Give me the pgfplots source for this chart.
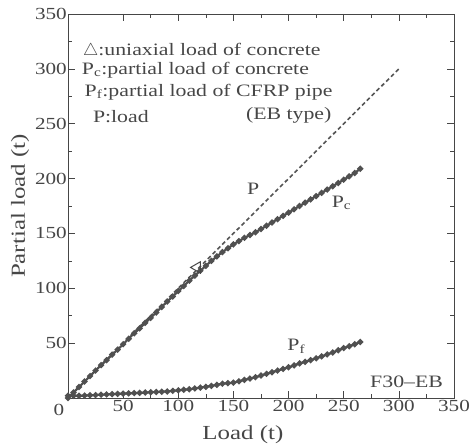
\documentclass[border=0pt]{standalone}
\usepackage{fontspec}
\setmainfont{Liberation Serif}[FakeStretch=1.25]
\usepackage{pgfplots}
\pgfplotsset{compat=1.18}

\definecolor{ink}{RGB}{70,70,70}
\definecolor{dotcol}{RGB}{80,80,80}
\definecolor{dashcol}{RGB}{85,85,85}

\begin{document}
\begin{tikzpicture}
\useasboundingbox (-68bp,-49bp) rectangle (408bp,398bp);
\begin{axis}[
  scale only axis,
  width=386bp, height=384bp,
  xmin=0, xmax=350, ymin=0, ymax=350,
  xtick={50,100,...,350}, ytick={50,100,...,350},
  minor tick num=1,
  tick align=inside,
  major tick length=7bp, minor tick length=4bp,
  axis line style={ink, line width=0.8bp},
  every tick/.style={ink, line width=0.7bp},
  /pgf/number format/assume math mode=true,
  ticklabel style={font=\fontsize{17}{17}\selectfont, text=ink},
  yticklabel style={inner sep=1bp},
  xticklabel style={inner sep=2bp},
  xlabel={Load (t)},
  ylabel={Partial load (t)},
  label style={font=\fontsize{20}{20}\selectfont, text=ink},
  xlabel style={at={(axis description cs:0.453,-0.109)}, anchor=base},
  ylabel style={at={(axis description cs:-0.124,0.5)}, anchor=center},
  clip=false,
]
% P : load (dashed)
\addplot[dashcol, line width=1.6bp, dash pattern=on 4bp off 2.8bp] coordinates {(0,0) (300,300)};

% Pc : partial load of concrete
\addplot[dotcol, line width=2.2bp, mark=*, mark size=1.8bp, mark options={fill=dotcol, draw=dotcol}] coordinates {
(0,0) (5,5) (10,10) (15,15) (20,20) (25,25) (30,30) (35,34.5) (40,39.5) (45,44)
(50,49) (55,54) (60,59) (65,63.5) (70,68.5) (75,73) (80,78) (85,83) (90,88) (95,92.5)
(100,97.5) (105,102) (110,107) (115,111.5) (120,116) (125,120.5) (130,125) (135,129) (140,133) (145,136.5)
(150,140) (155,143) (160,146) (165,148.5) (170,151) (175,154) (180,157) (185,160) (190,163) (195,166)
(200,169) (205,172) (210,175) (215,178) (220,181) (225,184) (230,187) (235,190) (240,193) (245,196)
(250,199) (255,202) (260,205) (265,209)
};

% Pf : partial load of CFRP pipe
\addplot[dotcol, line width=2.2bp, mark=*, mark size=1.8bp, mark options={fill=dotcol, draw=dotcol}] coordinates {
(0,2) (5,2) (10,2) (15,2.2) (20,2.5) (25,2.7) (30,3) (35,3.2) (40,3.5) (45,3.7)
(50,4) (55,4.2) (60,4.5) (65,4.7) (70,5) (75,5.2) (80,5.5) (85,5.7) (90,6) (95,6.5)
(100,7) (105,7.5) (110,8) (115,8.7) (120,9.5) (125,10.2) (130,11) (135,12) (140,13) (145,13.5)
(150,14) (155,15.2) (160,16.5) (165,17.7) (170,19) (175,20.5) (180,22) (185,23.5) (190,25) (195,26.5)
(200,28) (205,29.7) (210,31.5) (215,33) (220,34.5) (225,36.2) (230,38) (235,39.7) (240,41.5) (245,43.5)
(250,45.5) (255,47.2) (260,49) (265,51)
};

% uniaxial load of concrete
\addplot[ink, only marks, mark=triangle, mark size=6.5bp, line width=1bp,
  mark options={rotate=90, fill=white}] coordinates {(117,119)};

\node[text=ink, font=\fontsize{17}{17}\selectfont] at (rel axis cs:0,0) [xshift=-9bp, yshift=-12bp] {0};

\begin{scope}[every node/.style={text=ink, font=\fontsize{17.5}{17.5}\selectfont, inner sep=0pt}]
\node[anchor=base west] at (axis cs:13.5,312.5) {\(\bigtriangleup\):uniaxial load of concrete};
\node[anchor=base west] at (axis cs:12.5,295) {P\textsubscript{c}:partial load of concrete};
\node[anchor=base west] at (axis cs:15,275) {P\textsubscript{f}:partial load of CFRP pipe};
\node[anchor=base east] at (axis cs:239,254) {(EB type)};
\node[anchor=base west] at (axis cs:22.5,251) {P:load};
\node at (axis cs:168,191) {P};
\node at (axis cs:248,178) {P\textsubscript{c}};
\node at (axis cs:207,47) {P\textsubscript{f}};
\node at (axis cs:307,15) {F30--EB};
\end{scope}
\end{axis}
\end{tikzpicture}
\end{document}
